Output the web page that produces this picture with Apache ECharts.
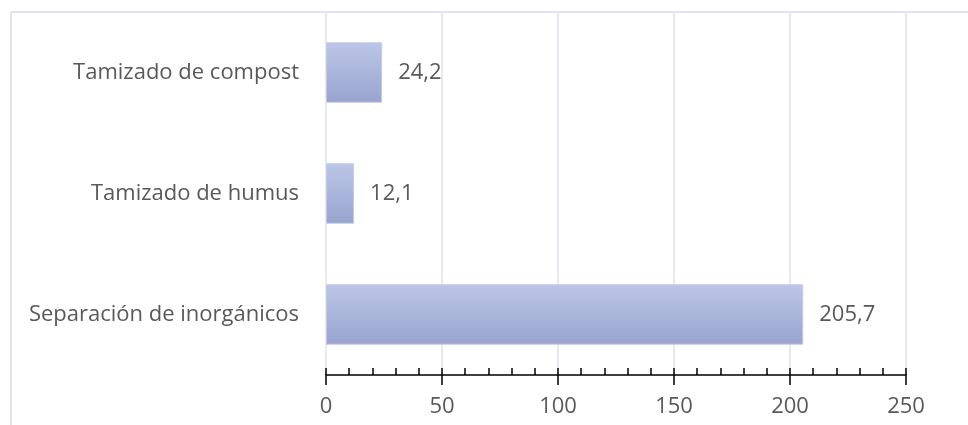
<!DOCTYPE html>
<html><head><meta charset="utf-8">
<script src="https://cdn.jsdelivr.net/npm/echarts@6/dist/echarts.min.js"></script>
<style>html,body{margin:0;padding:0;background:#fff}#c{width:968px;height:425px}</style>
</head><body><div id="c"></div>
<script>
const categories = ['Separación de inorgánicos', 'Tamizado de humus', 'Tamizado de compost'];
const values = [205.7, 12.1, 24.2];
const axisMin = 0, axisMax = 250, axisStep = 50;

const chart = echarts.init(document.getElementById('c'), null, {renderer: 'canvas'});
const font = '"Open Sans", "Noto Sans", sans-serif';
const txt = '#595959';
const fs = 22;
chart.setOption({
  animation: false,
  backgroundColor: '#fff',
  grid: {left: 326, right: 62, top: 12, bottom: 50, containLabel: false},
  graphic: [
    {type: 'line', shape: {x1: 11, y1: 12, x2: 968, y2: 12}, style: {stroke: '#e1e3ea', lineWidth: 2}, silent: true},
    {type: 'line', shape: {x1: 11, y1: 12, x2: 11, y2: 425}, style: {stroke: '#e1e3ea', lineWidth: 2}, silent: true}
  ],
  xAxis: [{
    type: 'value', min: axisMin, max: axisMax, interval: axisStep, position: 'bottom',
    axisLine: {show: true, lineStyle: {color: '#000', width: 1.5}},
    axisTick: {show: true, inside: false, length: 10, lineStyle: {color: '#000', width: 1.5}},
    minorTick: {show: false},
    splitLine: {show: true, lineStyle: {color: '#dfe2ea', width: 1.5}},
    axisLabel: {color: txt, fontSize: fs, fontFamily: font, margin: 21}
  }, {
    type: 'value', min: axisMin, max: axisMax, interval: axisStep, position: 'bottom',
    axisLine: {show: false},
    axisTick: {show: true, inside: true, length: 7, lineStyle: {color: '#000', width: 1.5}},
    minorTick: {show: true, splitNumber: 5, length: 7, lineStyle: {color: '#000', width: 1.5}},
    splitLine: {show: false},
    axisLabel: {show: false}
  }],
  yAxis: {
    type: 'category', data: categories,
    axisLine: {show: false}, axisTick: {show: false},
    axisLabel: {color: txt, fontSize: fs, fontFamily: font, margin: 27}
  },
  series: [{
    type: 'bar', data: values, xAxisIndex: 0, barCategoryGap: '50%',
    itemStyle: {
      color: new echarts.graphic.LinearGradient(0, 0, 0, 1, [
        {offset: 0, color: '#bcc6e8'}, {offset: 1, color: '#98a4ce'}
      ]),
      borderColor: '#c3cbe8', borderWidth: 1
    },
    label: {show: true, position: 'right', distance: 16, color: txt, fontSize: fs, fontFamily: font,
      formatter: p => String(p.value).replace('.', ',')}
  }]
});
</script></body></html>
